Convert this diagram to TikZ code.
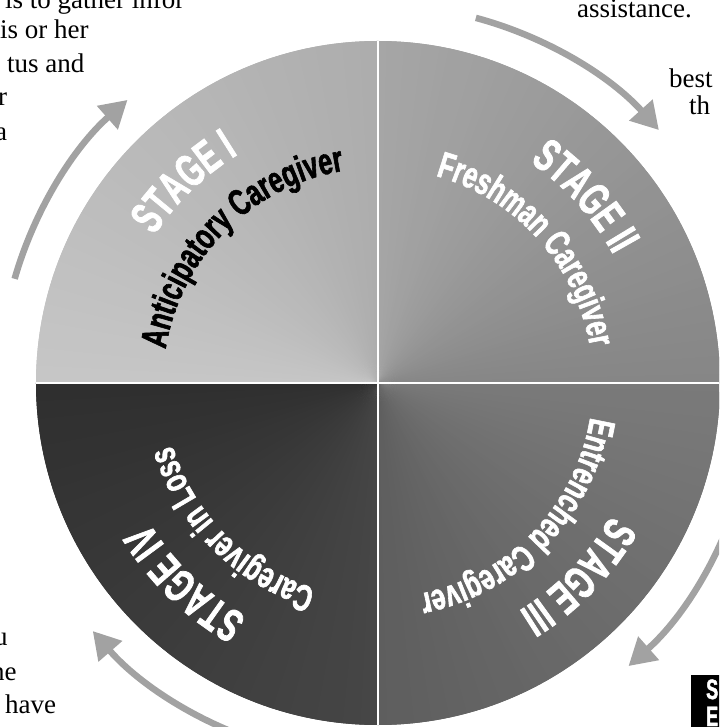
\documentclass[tikz,border=0pt]{standalone}
\usepackage{fontspec}
\setmainfont{Liberation Serif}
\newfontfamily\stagefont[FakeStretch=0.64,FakeBold=1.6]{Liberation Sans}
\newfontfamily\subfont[FakeStretch=0.68,FakeBold=1.6]{Liberation Sans}
\usetikzlibrary{decorations.text,arrows.meta}
\definecolor{qa1}{HTML}{C6C6C6}\definecolor{qa2}{HTML}{ADADAD}
\definecolor{qb1}{HTML}{A6A6A6}\definecolor{qb2}{HTML}{868686}
\definecolor{qc1}{HTML}{7A7A7A}\definecolor{qc2}{HTML}{5E5E5E}
\definecolor{qd1}{HTML}{464646}\definecolor{qd2}{HTML}{2F2F2F}
\definecolor{arrowgray}{HTML}{A2A2A2}
\newcommand\quadwedges[3]{%
  \begin{scope}
  \clip (0,0) -- (#1:342pt) arc[start angle=#1, end angle=#1-90, radius=342pt] -- cycle;
  \foreach \i in {0,...,59}{%
    \pgfmathsetmacro\sa{#1-1.5*\i}%
    \pgfmathsetmacro\ea{#1-1.5*\i-3}%
    \pgfmathtruncatemacro\pc{round(100*\i/59)}%
    \fill[#3!\pc!#2]
      (0,0) -- (\sa:350pt) arc[start angle=\sa, end angle=\ea, radius=350pt] -- cycle;
  }
  \end{scope}}
% #1 mid angle, #2 baseline radius, #3 font command, #4 size, #5 colour, #6 text
\newcommand\arctext[6]{%
  \path[decorate, decoration={text along path, text align=center, text color=#5,
     text={|#3\bfseries\fontsize{#4}{#4}\selectfont|#6}}]
     (#1+80:#2) arc[start angle=#1+80, end angle=#1-80, radius=#2];}
\tikzset{
  body/.style={anchor=base west, inner sep=0pt, font=\fontsize{27}{27}\selectfont},
  cyclearrow/.style={draw=arrowgray, line width=6.5pt,
     -{Triangle[length=27pt,width=30pt]}},
  divider/.style={draw=white, line width=2.5pt},
  tabletter/.style={anchor=base west, inner sep=0pt, text=white,
     font=\stagefont\bfseries\fontsize{28}{28}\selectfont}
}
\begin{document}
\begin{tikzpicture}[x=1pt,y=1pt]
\useasboundingbox (-378,-344) rectangle (341,383);
\clip (-378,-344) rectangle (341,383);
% quadrants
\quadwedges{180}{qa1}{qa2}
\quadwedges{90}{qb1}{qb2}
\quadwedges{0}{qc1}{qc2}
\quadwedges{-90}{qd1}{qd2}
\draw[divider] (-342,0) -- (342,0);
\draw[divider] (0,-342) -- (0,342);
% labels
\arctext{134}{268pt}{\stagefont}{46}{white}{STAGE I}
\arctext{135}{215pt}{\subfont}{37}{black}{Anticipatory Caregiver}
\arctext{42}{268pt}{\stagefont}{46}{white}{STAGE II}
\arctext{42}{215pt}{\subfont}{37}{white}{Freshman Caregiver}
\arctext{-44}{268pt}{\stagefont}{46}{white}{STAGE III}
\arctext{-44}{215pt}{\subfont}{37}{white}{Entrenched Caregiver}
\arctext{-134}{268pt}{\stagefont}{46}{white}{STAGE IV}
\arctext{-135}{215pt}{\subfont}{37}{white}{Caregiver in Loss}
% cycle arrows
\draw[cyclearrow] (164:378pt) arc[start angle=164, end angle=131.5, radius=378pt];
\draw[cyclearrow] (75:378pt) arc[start angle=75, end angle=42, radius=378pt];
\draw[cyclearrow] (-15:378pt) arc[start angle=-15, end angle=-48.5, radius=378pt];
\draw[cyclearrow] (-106:378pt) arc[start angle=-106, end angle=-139, radius=378pt];
% surrounding page text
\node[body] (t1) at (-373,374) {is to gather infor};
\node[body] (t2) at (-378,344) {is or her};
\node[body] (t3) at (-371,310) {tus and};
\node[body] (t4) at (-380,277) {r};
\node[body] (t5) at (-383,242) {a};
\node[body] (t6) at (199,365) {assistance.};
\node[body] (t7) at (291,295) {best};
\node[body] (t8) at (311,268) {th};
\node[body] (t9) at (-384,-262) {u};
\node[body] (t10) at (-387,-297) {ne};
\node[body] (t11) at (-373,-330) {have};
% black tab bottom right
\fill[black] (313,-292) rectangle (345,-350);
\node[tabletter] (s1) at (328,-316) {S};
\node[tabletter] (s2) at (328,-343) {E};
\end{tikzpicture}
\end{document}
